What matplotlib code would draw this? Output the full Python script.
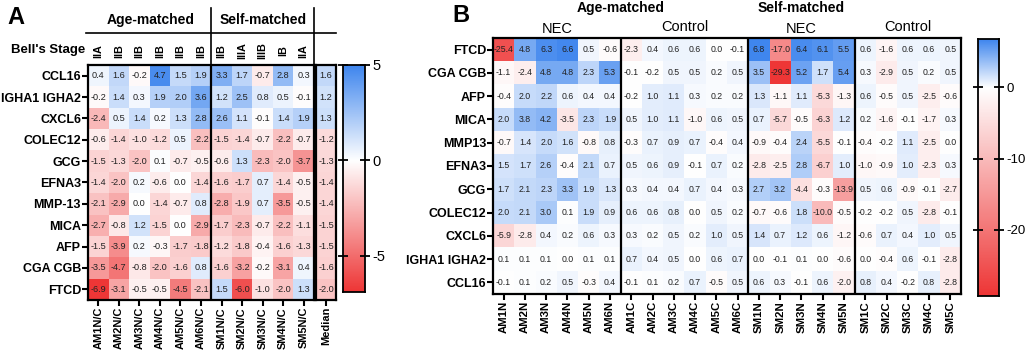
import numpy as np
import matplotlib
matplotlib.use("Agg")
import matplotlib.pyplot as plt
from matplotlib.colors import LinearSegmentedColormap, TwoSlopeNorm
from matplotlib.lines import Line2D

plt.rcParams['font.family'] = ['Liberation Sans', 'DejaVu Sans']

# ---------------- Panel A data ----------------
genes_a = ["CCL16", "IGHA1 IGHA2", "CXCL6", "COLEC12", "GCG", "EFNA3",
           "MMP-13", "MICA", "AFP", "CGA CGB", "FTCD"]
cols_a = ["AM1N/C", "AM2N/C", "AM3N/C", "AM4N/C", "AM5N/C", "AM6N/C",
          "SM1N/C", "SM2N/C", "SM3N/C", "SM4N/C", "SM5N/C"]
stages_a = ["IIA", "IIB", "IIB", "IIB", "IIB", "IIB",
            "IIB", "IIIA", "IIIB", "IB", "IIA"]
vals_a = [
    [0.4, 1.6, -0.2, 4.7, 1.5, 1.9, 3.3, 1.7, -0.7, 2.8, 0.3],
    [-0.2, 1.4, 0.3, 1.9, 2.0, 3.6, 1.2, 2.5, 0.8, 0.5, -0.1],
    [-2.4, 0.5, 1.4, 0.2, 1.3, 2.8, 2.6, 1.1, -0.1, 1.4, 1.9],
    [-0.6, -1.4, -1.0, -1.2, 0.5, -2.2, -1.5, -1.4, -0.7, -2.2, -0.7],
    [-1.5, -1.3, -2.0, 0.1, -0.7, -0.5, -0.6, 1.3, -2.3, -2.0, -3.7],
    [-1.4, -2.0, 0.2, -0.6, 0.0, -1.4, -1.6, -1.7, 0.7, -1.4, -0.5],
    [-2.1, -2.9, 0.0, -1.4, -0.7, 0.8, -2.8, -1.9, 0.7, -3.5, -0.5],
    [-2.7, -0.8, 1.2, -1.5, 0.0, -2.9, -1.7, -2.3, -0.7, -2.2, -1.1],
    [-1.5, -3.9, 0.2, -0.3, -1.7, -1.8, -1.2, -1.8, -0.4, -1.6, -1.3],
    [-3.5, -4.7, -0.8, -2.0, -1.6, 0.8, -1.6, -3.2, -0.2, -3.1, 0.4],
    [-6.9, -3.1, -0.5, -0.5, -4.5, -2.1, 1.5, -6.0, -1.0, -2.0, 1.3],
]
median_a = [1.6, 1.2, 1.3, -1.2, -1.3, -1.4, -1.4, -1.5, -1.5, -1.6, -2.0]

# ---------------- Panel B data ----------------
genes_b = ["FTCD", "CGA CGB", "AFP", "MICA", "MMP13", "EFNA3", "GCG",
           "COLEC12", "CXCL6", "IGHA1 IGHA2", "CCL16"]
cols_b = ["AM1N", "AM2N", "AM3N", "AM4N", "AM5N", "AM6N",
          "AM1C", "AM2C", "AM3C", "AM4C", "AM5C", "AM6C",
          "SM1N", "SM2N", "SM3N", "SM4N", "SM5N",
          "SM1C", "SM2C", "SM3C", "SM4C", "SM5C"]
vals_b = [
    [-25.4, 4.8, 6.3, 6.6, 0.5, -0.6, -2.3, 0.4, 0.6, 0.6, 0.0, -0.1, 6.8, -17.0, 6.4, 6.1, 5.5, 0.6, -1.6, 0.6, 0.6, 0.5],
    [-1.1, -2.4, 4.8, 4.8, 2.3, 5.3, -0.1, -0.2, 0.5, 0.5, 0.2, 0.5, 3.5, -29.3, 5.2, 1.7, 5.4, 0.3, -2.9, 0.5, 0.2, 0.5],
    [-0.4, 2.0, 2.2, 0.6, 0.4, 0.4, -0.2, 1.0, 1.1, 0.3, 0.2, 0.2, 1.3, -1.1, 1.1, -5.3, -1.3, 0.6, -0.5, 0.5, -2.5, -0.6],
    [2.0, 3.8, 4.2, -3.5, 2.3, 1.9, 0.5, 1.0, 1.1, -1.0, 0.6, 0.5, 0.7, -5.7, -0.5, -6.3, 1.2, 0.2, -1.6, -0.1, -1.7, 0.3],
    [-0.7, 1.4, 2.0, 1.6, -0.8, 0.8, -0.3, 0.7, 0.9, 0.7, -0.4, 0.4, -0.9, -0.4, 2.4, -5.5, -0.1, -0.4, -0.2, 1.1, -2.5, 0.0],
    [1.5, 1.7, 2.6, -0.4, 2.1, 0.7, 0.5, 0.6, 0.9, -0.1, 0.7, 0.2, -2.8, -2.5, 2.8, -6.7, 1.0, -1.0, -0.9, 1.0, -2.3, 0.3],
    [1.7, 2.1, 2.3, 3.3, 1.9, 1.3, 0.3, 0.4, 0.4, 0.7, 0.4, 0.3, 2.7, 3.2, -4.4, -0.3, -13.9, 0.5, 0.6, -0.9, -0.1, -2.7],
    [2.0, 2.1, 3.0, 0.1, 1.9, 0.9, 0.6, 0.6, 0.8, 0.0, 0.5, 0.2, -0.7, -0.6, 1.8, -10.0, -0.5, -0.2, -0.2, 0.5, -2.8, -0.1],
    [-5.9, -2.8, 0.4, 0.2, 0.6, 0.3, 0.3, 0.2, 0.5, 0.2, 1.0, 0.5, 1.4, 0.7, 1.2, 0.6, -1.2, -0.6, 0.7, 0.4, 1.0, 0.5],
    [0.1, 0.1, 0.1, 0.0, 0.1, 0.1, 0.7, 0.4, 0.5, 0.0, 0.6, 0.7, 0.0, -0.1, 0.1, 0.0, -0.6, 0.0, -0.4, 0.6, -0.1, -2.8],
    [-0.1, 0.1, 0.2, 0.5, -0.3, 0.4, -0.1, 0.1, 0.2, 0.7, -0.5, 0.5, 0.6, 0.3, -0.1, 0.6, -2.0, 0.8, 0.4, -0.2, 0.8, -2.8],
]

W, H = 1026, 350
fig = plt.figure(figsize=(W / 100, H / 100), dpi=100)


def box(l, t, r, b):
    return [l / W, 1 - b / H, (r - l) / W, (b - t) / H]


def fx(x):
    return x / W


def fy(y):
    return 1 - y / H


cmap = LinearSegmentedColormap.from_list("rwb", ["#EE3636", "#FFFFFF", "#3F86EE"])
norm_a = TwoSlopeNorm(vmin=-6.9, vcenter=0, vmax=5.0)
norm_b = TwoSlopeNorm(vmin=-29.3, vcenter=0, vmax=6.8)
TXT = "#222222"


def draw_heat(ax, data, norm, fs):
    data = np.asarray(data, dtype=float)
    ax.imshow(data, cmap=cmap, norm=norm, aspect="auto", interpolation="nearest")
    for i in range(data.shape[0]):
        for j in range(data.shape[1]):
            ax.text(j, i, f"{data[i, j]:.1f}", ha="center", va="center",
                    fontsize=fs, color=TXT)
    for s in ax.spines.values():
        s.set_linewidth(1.6)
        s.set_color("black")


def draw_cbar(cax, norm, ticks, fs):
    vmin, vmax = norm.vmin, norm.vmax
    grad = np.linspace(vmin, vmax, 400)[:, None]
    cax.imshow(grad, cmap=cmap, norm=norm, aspect="auto", origin="lower",
               extent=[0, 1, vmin, vmax], interpolation="bilinear")
    cax.set_xlim(0, 1)
    cax.set_ylim(vmin, vmax)
    cax.set_xticks([])
    cax.yaxis.tick_right()
    cax.set_yticks(ticks)
    cax.set_yticklabels([str(t) for t in ticks])
    cax.tick_params(axis="y", labelsize=fs, length=7, width=1.3,
                    direction="inout", left=True, right=True, pad=2)
    for s in cax.spines.values():
        s.set_linewidth(1.3)


# ---------------- Panel A ----------------
axA = fig.add_axes(box(88, 65, 314, 300))
draw_heat(axA, vals_a, norm_a, 6.6)
axA.set_yticks(range(len(genes_a)))
axA.set_yticklabels(genes_a, fontsize=9, fontweight="bold")
axA.set_xticks(range(len(cols_a)))
axA.set_xticklabels(cols_a, rotation=90, fontsize=7.9, fontweight="bold")
axA.tick_params(length=4, width=1.5, pad=1)
axA.axvline(5.5, color="black", lw=1.6)

axM = fig.add_axes(box(316, 65, 336, 300))
draw_heat(axM, np.array(median_a)[:, None], norm_a, 6.6)
axM.set_yticks([])
axM.set_xticks([0])
axM.set_xticklabels(["Median"], rotation=90, fontsize=7.9, fontweight="bold")
axM.tick_params(length=4, width=1.5, pad=1)

# Bell's stage labels
fig.text(fx(85), fy(50), "Bell's Stage", ha="right", va="center",
         fontsize=9.5, fontweight="bold")
for j, st in enumerate(stages_a):
    xc = 88 + (j + 0.5) * (226 / 11)
    fig.text(fx(xc), fy(51), st, rotation=90, ha="center", va="center",
             fontsize=7.8, fontweight="bold")

fig.text(fx(151), fy(20), "Age-matched", ha="center", va="center",
         fontsize=10, fontweight="bold")
fig.text(fx(263), fy(20), "Self-matched", ha="center", va="center",
         fontsize=10, fontweight="bold")
fig.add_artist(Line2D([fx(86), fx(336)], [fy(33), fy(33)], color="black", lw=1.2))
fig.add_artist(Line2D([fx(211.3), fx(211.3)], [fy(8), fy(65)], color="black", lw=1.2))
fig.add_artist(Line2D([fx(314), fx(314)], [fy(8), fy(65)], color="black", lw=1.2))

caxA = fig.add_axes(box(343, 65, 365, 292))
draw_cbar(caxA, norm_a, [5, 0, -5], 10.5)

fig.text(fx(7), fy(17), "A", ha="left", va="center", fontsize=17, fontweight="bold")

# ---------------- Panel B ----------------
axB = fig.add_axes(box(493, 38, 961, 294))
draw_heat(axB, vals_b, norm_b, 6.3)
axB.set_yticks(range(len(genes_b)))
axB.set_yticklabels(genes_b, fontsize=9, fontweight="bold")
axB.set_xticks(range(len(cols_b)))
axB.set_xticklabels(cols_b, rotation=90, fontsize=8.2, fontweight="bold")
axB.tick_params(length=4, width=1.5, pad=1)
for xv in (5.5, 11.5, 16.5):
    axB.axvline(xv, color="black", lw=1.6)

cw = 468 / 22
fig.text(fx(493 + 6 * cw), fy(8), "Age-matched", ha="center", va="center",
         fontsize=10, fontweight="bold")
fig.text(fx(493 + 14.5 * cw), fy(8), "Self-matched", ha="center", va="center",
         fontsize=10, fontweight="bold")
fig.text(fx(493 + 3 * cw), fy(29), "NEC", ha="center", va="center", fontsize=10.5)
fig.text(fx(493 + 9 * cw), fy(27), "Control", ha="center", va="center", fontsize=10.5)
fig.text(fx(493 + 14.5 * cw), fy(29), "NEC", ha="center", va="center", fontsize=10.5)
fig.text(fx(493 + 19.5 * cw), fy(27), "Control", ha="center", va="center", fontsize=10.5)

caxB = fig.add_axes(box(978, 39, 999, 296))
draw_cbar(caxB, norm_b, [0, -10, -20], 9.5)

fig.text(fx(452), fy(15), "B", ha="left", va="center", fontsize=17, fontweight="bold")

fig.savefig("out.png", dpi=100)
